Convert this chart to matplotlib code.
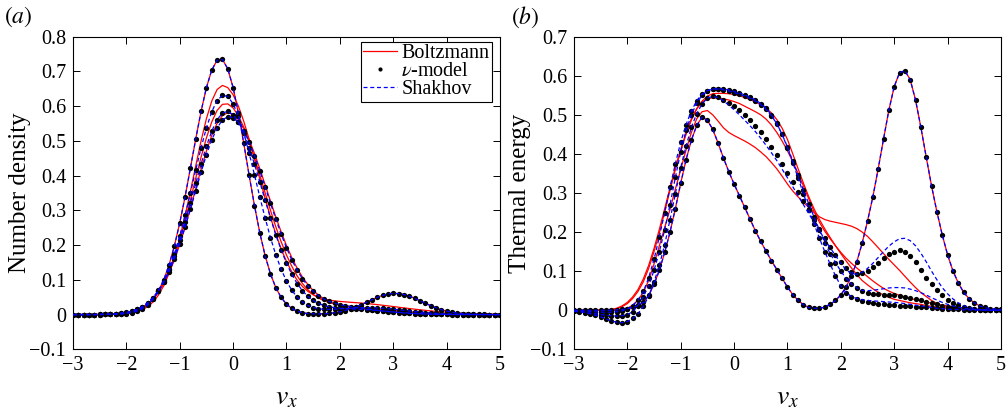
import numpy as np
import matplotlib
matplotlib.use("Agg")
import matplotlib.pyplot as plt
from matplotlib.lines import Line2D
from matplotlib.ticker import FuncFormatter, MultipleLocator

# velocity grid (-3 ... 5, step 0.1)
vx = np.linspace(-3.0, 5.0, 81)

# ---------------- panel (a): number density ----------------
a_init = [0, 0, 0, 0, 0, 0, 0.0003, 0.0005, 0.0008, 0.0016,
          0.003, 0.0054, 0.0097, 0.0166, 0.0274, 0.0437, 0.0672, 0.0996, 0.143, 0.1975,
          0.2636, 0.339, 0.4217, 0.5057, 0.585, 0.6534, 0.704, 0.732, 0.7346, 0.7075,
          0.6537, 0.5794, 0.4925, 0.4014, 0.314, 0.2356, 0.1697, 0.117, 0.0775, 0.0492,
          0.030, 0.0175, 0.0098, 0.0053, 0.0027, 0.0021, 0.0019, 0.0022, 0.0033, 0.0052,
          0.0079, 0.0116, 0.0162, 0.0219, 0.0284, 0.0355, 0.0427, 0.0495, 0.0551, 0.059,
          0.0609, 0.0604, 0.0577, 0.053, 0.0469, 0.0399, 0.0327, 0.0257, 0.0195, 0.0142,
          0.010, 0.0068, 0.0044, 0.0027, 0.0016, 0.0009, 0.0005, 0.0003, 0.0001, 0,
          0]
a_boltz1 = [0, 0, 0, 0, 0.0001, 0.0001, 0.0002, 0.0003, 0.0007, 0.0013,
            0.0026, 0.0047, 0.0082, 0.014, 0.0229, 0.0363, 0.0558, 0.0827, 0.1184, 0.1641,
            0.2196, 0.2839, 0.3547, 0.4283, 0.4999, 0.5639, 0.6148, 0.6478, 0.6597, 0.6534,
            0.6329, 0.5999, 0.5563, 0.5051, 0.4491, 0.3913, 0.3344, 0.2807, 0.232, 0.1891,
            0.1528, 0.1229, 0.0991, 0.0807, 0.0669, 0.057, 0.0499, 0.045, 0.0417, 0.0395,
            0.0378, 0.0366, 0.0354, 0.0343, 0.0331, 0.0318, 0.0303, 0.0286, 0.0269, 0.025,
            0.0232, 0.0212, 0.0193, 0.0174, 0.0156, 0.0138, 0.0122, 0.0106, 0.0092, 0.0079,
            0.0067, 0.0057, 0.0047, 0.0039, 0.0032, 0.0026, 0.0021, 0.0017, 0.0014, 0.0011,
            0.0009]
a_boltz2 = [0, 0, 0, 0.0001, 0.0001, 0.0002, 0.0004, 0.0008, 0.0014, 0.0026,
            0.0044, 0.0074, 0.0121, 0.0192, 0.0295, 0.0441, 0.0641, 0.0905, 0.1242, 0.1657,
            0.2145, 0.2701, 0.3303, 0.3927, 0.4532, 0.5085, 0.5546, 0.5878, 0.6052, 0.6065,
            0.5949, 0.572, 0.5391, 0.4981, 0.4514, 0.4014, 0.3503, 0.3002, 0.2528, 0.2097,
            0.1716, 0.1389, 0.1114, 0.0892, 0.0715, 0.0579, 0.0476, 0.04, 0.0344, 0.0303,
            0.0273, 0.0251, 0.0232, 0.0216, 0.0202, 0.0189, 0.0175, 0.0162, 0.0148, 0.0133,
            0.012, 0.0107, 0.0095, 0.0083, 0.0071, 0.0061, 0.0052, 0.0044, 0.0036, 0.003,
            0.0024, 0.002, 0.0016, 0.0012, 0.001, 0.0007, 0.0006, 0.0004, 0.0003, 0.0002,
            0.0002]
a_boltz3 = [0, 0, 0.0001, 0.0001, 0.0002, 0.0003, 0.0006, 0.0011, 0.0019, 0.0032,
            0.0053, 0.0085, 0.0135, 0.0207, 0.031, 0.0452, 0.0642, 0.0888, 0.1199, 0.1575,
            0.2017, 0.2517, 0.306, 0.3625, 0.4185, 0.4707, 0.5158, 0.5507, 0.5729, 0.581,
            0.5762, 0.5609, 0.5362, 0.5033, 0.4639, 0.42, 0.3738, 0.3269, 0.2812, 0.2382,
            0.1988, 0.1638, 0.1334, 0.1078, 0.0866, 0.0695, 0.056, 0.0455, 0.0375, 0.0314,
            0.0268, 0.0234, 0.0206, 0.0185, 0.0166, 0.0151, 0.0137, 0.0124, 0.0111, 0.0099,
            0.0088, 0.0077, 0.0068, 0.0058, 0.005, 0.0042, 0.0036, 0.003, 0.0024, 0.002,
            0.0016, 0.0013, 0.001, 0.0008, 0.0006, 0.0005, 0.0004, 0.0003, 0.0002, 0.0001,
            0.0001]
a_nu1 = [0, 0, 0, 0.0001, 0.0001, 0.0002, 0.0004, 0.0007, 0.0014, 0.0025,
         0.0044, 0.0074, 0.0122, 0.0195, 0.0302, 0.0456, 0.0667, 0.0948, 0.1306, 0.1748,
         0.227, 0.286, 0.350, 0.416, 0.480, 0.5375, 0.584, 0.616, 0.631, 0.628,
         0.607, 0.571, 0.523, 0.465, 0.4025, 0.339, 0.278, 0.2216, 0.172, 0.1305,
         0.0964, 0.0699, 0.0502, 0.0361, 0.0264, 0.0203, 0.0169, 0.0153, 0.015, 0.0155,
         0.0164, 0.0175, 0.0184, 0.0193, 0.0198, 0.020, 0.0198, 0.0192, 0.0182, 0.017,
         0.0155, 0.0139, 0.0121, 0.0104, 0.0087, 0.0072, 0.0058, 0.0046, 0.0036, 0.0027,
         0.002, 0.0015, 0.001, 0.0007, 0.0005, 0.0003, 0.0002, 0.0001, 0.0001, 0,
         0]
a_nu2 = [0, 0, 0.0001, 0.0001, 0.0002, 0.0004, 0.0007, 0.0012, 0.0021, 0.0036,
         0.0059, 0.0095, 0.0149, 0.0228, 0.0339, 0.0491, 0.0694, 0.0956, 0.128, 0.1677,
         0.2137, 0.2652, 0.3206, 0.378, 0.4335, 0.4849, 0.528, 0.561, 0.580, 0.585,
         0.5757, 0.5543, 0.522, 0.4809, 0.4335, 0.382, 0.3295, 0.2781, 0.2299, 0.1863,
         0.1482, 0.1158, 0.0894, 0.0685, 0.0524, 0.0406, 0.0321, 0.0262, 0.0223, 0.0199,
         0.0183, 0.0172, 0.0165, 0.0157, 0.0149, 0.014, 0.0129, 0.0117, 0.0104, 0.0091,
         0.0078, 0.0066, 0.0054, 0.0044, 0.0035, 0.0027, 0.002, 0.0015, 0.0011, 0.0008,
         0.0005, 0.0003, 0.0002, 0.0001, 0.0001, 0, 0, 0, 0, 0,
         0]
a_nu3 = [0, 0, 0.0001, 0.0001, 0.0002, 0.0004, 0.0008, 0.0014, 0.0024, 0.0039,
         0.0063, 0.010, 0.0154, 0.0232, 0.034, 0.0486, 0.0679, 0.0926, 0.1233, 0.160,
         0.2029, 0.2509, 0.3027, 0.3565, 0.4098, 0.4596, 0.503, 0.5373, 0.560, 0.5699,
         0.5668, 0.553, 0.5292, 0.497, 0.4579, 0.414, 0.3676, 0.3206, 0.2747, 0.2315,
         0.1923, 0.1575, 0.1278, 0.1029, 0.0828, 0.0668, 0.0545, 0.045, 0.0381, 0.0328,
         0.0288, 0.0256, 0.023, 0.0206, 0.0185, 0.0164, 0.0144, 0.0124, 0.0106, 0.0088,
         0.0072, 0.0058, 0.0046, 0.0036, 0.0027, 0.002, 0.0015, 0.001, 0.0007, 0.0005,
         0.0003, 0.0002, 0.0001, 0, 0, 0, 0, 0, 0, 0,
         0]
# Shakhov coincides with the nu-model in panel (a)
a_shak1 = list(a_nu1)
a_shak2 = list(a_nu2)
a_shak3 = list(a_nu3)

# ---------------- panel (b): thermal energy ----------------
b_init = [0, 0, 0, 0, 0, 0, 0, 0, 0.001, 0.002,
          0.004, 0.007, 0.012, 0.02, 0.038, 0.066, 0.102, 0.148, 0.2, 0.26,
          0.325, 0.385, 0.435, 0.473, 0.494, 0.486, 0.463, 0.428, 0.39, 0.355,
          0.323, 0.293, 0.263, 0.233, 0.203, 0.176, 0.151, 0.127, 0.104, 0.082,
          0.059, 0.04, 0.025, 0.014, 0.007, 0.005, 0.005, 0.008, 0.015, 0.025,
          0.039, 0.06, 0.088, 0.124, 0.172, 0.228, 0.29, 0.362, 0.438, 0.512,
          0.572, 0.608, 0.613, 0.59, 0.538, 0.468, 0.392, 0.318, 0.252, 0.193,
          0.142, 0.101, 0.07, 0.046, 0.03, 0.019, 0.011, 0.007, 0.004, 0.003,
          0.002]
b_boltz1 = [0, 0, 0, 0, 0, 0, 0, 0, 0.001, 0.002,
            0.005, 0.013, 0.026, 0.046, 0.076, 0.118, 0.165, 0.212, 0.258, 0.31,
            0.36, 0.41, 0.455, 0.49, 0.508, 0.511, 0.5, 0.484, 0.467, 0.455,
            0.447, 0.44, 0.433, 0.425, 0.416, 0.405, 0.393, 0.378, 0.362, 0.343,
            0.323, 0.305, 0.29, 0.276, 0.263, 0.25, 0.239, 0.232, 0.228, 0.225,
            0.222, 0.219, 0.215, 0.209, 0.2, 0.189, 0.175, 0.16, 0.145, 0.13,
            0.116, 0.102, 0.087, 0.072, 0.058, 0.045, 0.035, 0.025, 0.017, 0.011,
            0.007, 0.005, 0.003, 0.002, 0.001, 0, 0, 0, 0, 0,
            0]
b_boltz2 = [0, 0, 0, 0, 0, 0, 0, 0.002, 0.005, 0.011,
            0.02, 0.034, 0.053, 0.08, 0.115, 0.158, 0.207, 0.26, 0.313, 0.365,
            0.412, 0.453, 0.489, 0.516, 0.533, 0.541, 0.544, 0.543, 0.541, 0.538,
            0.534, 0.529, 0.522, 0.515, 0.508, 0.5, 0.489, 0.474, 0.455, 0.433,
            0.408, 0.38, 0.35, 0.318, 0.285, 0.252, 0.225, 0.202, 0.183, 0.165,
            0.148, 0.133, 0.12, 0.108, 0.097, 0.086, 0.075, 0.065, 0.056, 0.049,
            0.043, 0.038, 0.034, 0.03, 0.027, 0.024, 0.021, 0.018, 0.015, 0.013,
            0.011, 0.009, 0.007, 0.005, 0.004, 0.003, 0.002, 0.002, 0.001, 0.001,
            0]
b_boltz3 = [0, 0, 0, 0, 0, 0, 0, 0.001, 0.004, 0.009,
            0.017, 0.03, 0.048, 0.073, 0.107, 0.15, 0.198, 0.252, 0.307, 0.36,
            0.408, 0.45, 0.487, 0.515, 0.535, 0.548, 0.554, 0.555, 0.555, 0.554,
            0.552, 0.549, 0.544, 0.539, 0.533, 0.526, 0.517, 0.505, 0.488, 0.466,
            0.437, 0.4, 0.362, 0.325, 0.29, 0.259, 0.232, 0.208, 0.186, 0.165,
            0.145, 0.126, 0.108, 0.091, 0.076, 0.065, 0.055, 0.046, 0.039, 0.033,
            0.028, 0.025, 0.022, 0.019, 0.017, 0.015, 0.012, 0.01, 0.008, 0.006,
            0.005, 0.004, 0.003, 0.002, 0.002, 0.001, 0.001, 0, 0, 0,
            0]
b_nu1 = [-0.003, -0.004, -0.006, -0.009, -0.013, -0.017, -0.022, -0.027, -0.031, -0.032,
         -0.029, -0.021, -0.009, 0.01, 0.036, 0.072, 0.115, 0.168, 0.232, 0.298,
         0.365, 0.42, 0.468, 0.503, 0.528, 0.543, 0.547, 0.545, 0.539, 0.531,
         0.522, 0.512, 0.50, 0.487, 0.472, 0.455, 0.437, 0.417, 0.396, 0.373,
         0.35, 0.327, 0.303, 0.28, 0.256, 0.232, 0.208, 0.185, 0.163, 0.142,
         0.123, 0.107, 0.097, 0.093, 0.095, 0.1, 0.11, 0.122, 0.133, 0.143,
         0.15, 0.153, 0.15, 0.14, 0.123, 0.102, 0.082, 0.066, 0.051, 0.038,
         0.027, 0.019, 0.013, 0.008, 0.005, 0.003, 0.002, 0.001, 0, 0,
         0]
b_nu2 = [-0.002, -0.003, -0.005, -0.007, -0.009, -0.011, -0.013, -0.014, -0.015, -0.014,
         -0.011, -0.004, 0.013, 0.035, 0.063, 0.102, 0.15, 0.206, 0.27, 0.34,
         0.405, 0.46, 0.5, 0.53, 0.55, 0.561, 0.566, 0.566, 0.564, 0.561,
         0.557, 0.553, 0.548, 0.542, 0.535, 0.526, 0.514, 0.498, 0.477, 0.45,
         0.418, 0.382, 0.345, 0.308, 0.272, 0.238, 0.205, 0.172, 0.145, 0.122,
         0.1, 0.081, 0.067, 0.056, 0.049, 0.045, 0.042, 0.041, 0.04, 0.04,
         0.039, 0.037, 0.035, 0.032, 0.029, 0.026, 0.022, 0.019, 0.015, 0.012,
         0.009, 0.007, 0.005, 0.004, 0.003, 0.002, 0.001, 0.001, 0, 0,
         0]
b_nu3 = [-0.001, -0.001, -0.002, -0.003, -0.004, -0.005, -0.005, -0.005, -0.004, -0.002,
         0.003, 0.012, 0.026, 0.048, 0.083, 0.13, 0.188, 0.25, 0.315, 0.375,
         0.43, 0.475, 0.51, 0.536, 0.553, 0.562, 0.566, 0.567, 0.566, 0.564,
         0.56, 0.556, 0.551, 0.545, 0.538, 0.529, 0.517, 0.5, 0.478, 0.45,
         0.416, 0.378, 0.338, 0.298, 0.258, 0.22, 0.184, 0.15, 0.118, 0.088,
         0.062, 0.044, 0.034, 0.028, 0.024, 0.021, 0.019, 0.017, 0.015, 0.014,
         0.013, 0.012, 0.011, 0.01, 0.009, 0.008, 0.007, 0.006, 0.005, 0.004,
         0.003, 0.002, 0.002, 0.001, 0.001, 0, 0, 0, 0, 0,
         0]
b_shak1 = [-0.003, -0.004, -0.006, -0.009, -0.013, -0.017, -0.022, -0.027, -0.031, -0.032,
           -0.029, -0.021, -0.009, 0.01, 0.036, 0.072, 0.115, 0.168, 0.232, 0.298,
           0.365, 0.42, 0.468, 0.503, 0.528, 0.543, 0.547, 0.544, 0.536, 0.525,
           0.513, 0.5, 0.486, 0.472, 0.457, 0.44, 0.422, 0.403, 0.383, 0.361,
           0.339, 0.316, 0.293, 0.27, 0.247, 0.225, 0.203, 0.181, 0.16, 0.14,
           0.12, 0.103, 0.094, 0.092, 0.097, 0.107, 0.12, 0.135, 0.15, 0.164,
           0.175, 0.183, 0.184, 0.178, 0.165, 0.146, 0.124, 0.1, 0.078, 0.058,
           0.042, 0.029, 0.019, 0.012, 0.007, 0.004, 0.002, 0.001, 0, 0,
           0]
b_shak2 = [-0.002, -0.003, -0.005, -0.007, -0.009, -0.011, -0.013, -0.014, -0.015, -0.014,
           -0.011, -0.004, 0.013, 0.035, 0.063, 0.102, 0.15, 0.206, 0.27, 0.34,
           0.405, 0.46, 0.5, 0.53, 0.55, 0.561, 0.566, 0.566, 0.564, 0.561,
           0.557, 0.553, 0.548, 0.542, 0.535, 0.526, 0.514, 0.498, 0.477, 0.45,
           0.418, 0.382, 0.345, 0.308, 0.272, 0.238, 0.205, 0.172, 0.145, 0.122,
           0.1, 0.081, 0.067, 0.057, 0.051, 0.05, 0.051, 0.053, 0.055, 0.057,
           0.058, 0.058, 0.057, 0.054, 0.05, 0.045, 0.039, 0.032, 0.026, 0.02,
           0.015, 0.011, 0.008, 0.005, 0.003, 0.002, 0.001, 0.001, 0, 0,
           0]
b_shak3 = [-0.001, -0.001, -0.002, -0.003, -0.004, -0.005, -0.005, -0.005, -0.004, -0.002,
           0.003, 0.012, 0.026, 0.048, 0.083, 0.13, 0.188, 0.25, 0.315, 0.375,
           0.43, 0.475, 0.51, 0.536, 0.553, 0.562, 0.566, 0.567, 0.566, 0.564,
           0.56, 0.556, 0.551, 0.545, 0.538, 0.529, 0.517, 0.5, 0.478, 0.45,
           0.416, 0.378, 0.338, 0.298, 0.258, 0.22, 0.184, 0.15, 0.118, 0.088,
           0.062, 0.045, 0.035, 0.03, 0.027, 0.025, 0.024, 0.023, 0.022, 0.021,
           0.02, 0.019, 0.017, 0.015, 0.013, 0.011, 0.009, 0.007, 0.005, 0.004,
           0.003, 0.002, 0.002, 0.001, 0.001, 0, 0, 0, 0, 0,
           0]

panel_labels = ["(a)", "(b)"]
y_labels = ["Number density", "Thermal energy"]
legend_labels = ["Boltzmann", r"$\nu$-model", "Shakhov"]

plt.rcParams["font.family"] = ["Liberation Serif", "DejaVu Serif"]
plt.rcParams["mathtext.fontset"] = "stix"

RED = "#ff0000"
BLUE = "#0000ff"

fig = plt.figure(figsize=(10.08, 4.15), dpi=100)
axa = fig.add_axes([0.0724, 0.1583, 0.4236, 0.7533])
axb = fig.add_axes([0.5694, 0.1583, 0.4236, 0.7533])


def fmt(v, pos):
    s = "%g" % round(v, 2)
    return s.replace("-", "\u2212")


def draw(ax, init, boltz, nu, shak, ymax):
    for s in [init] + boltz:
        ax.plot(vx, np.asarray(s), color=RED, lw=0.9, zorder=2)
    for s in [init] + nu:
        ax.plot(vx, np.asarray(s), ls="none", marker="o", ms=3.8, mfc="black",
                mec="black", mew=0, zorder=3)
    for s in [init] + shak:
        ax.plot(vx, np.asarray(s), color=BLUE, lw=0.9, ls=(0, (3.2, 2.2)), zorder=4)
    ax.set_xlim(-3, 5)
    ax.set_ylim(-0.1, ymax)
    ax.xaxis.set_major_locator(MultipleLocator(1))
    ax.yaxis.set_major_locator(MultipleLocator(0.1))
    ax.xaxis.set_major_formatter(FuncFormatter(fmt))
    ax.yaxis.set_major_formatter(FuncFormatter(fmt))
    ax.tick_params(direction="in", top=True, right=True, length=5, width=0.7,
                   labelsize=14.5, pad=5)
    for sp in ax.spines.values():
        sp.set_linewidth(0.8)


for s in [a_init, a_boltz1, a_boltz2, a_boltz3, a_nu1, a_nu2, a_nu3,
          b_init, b_boltz1, b_boltz2, b_boltz3, b_nu1, b_nu2, b_nu3,
          b_shak1, b_shak2, b_shak3]:
    assert len(s) == 81, len(s)

draw(axa, a_init, [a_boltz1, a_boltz2, a_boltz3], [a_nu1, a_nu2, a_nu3],
     [a_shak1, a_shak2, a_shak3], 0.8)
draw(axb, b_init, [b_boltz1, b_boltz2, b_boltz3], [b_nu1, b_nu2, b_nu3],
     [b_shak1, b_shak2, b_shak3], 0.7)

for ax, yl in zip([axa, axb], y_labels):
    ax.set_ylabel(yl, fontsize=18)
    ax.set_xlabel(r"$v_x$", fontsize=20)
    ax.xaxis.set_label_coords(0.5, -0.115)
axa.yaxis.set_label_coords(-0.098, 0.5)
axb.yaxis.set_label_coords(-0.100, 0.5)

fig.text(0.004, 0.988, r"$(a)$", fontsize=17, va="top", ha="left")
fig.text(0.507, 0.988, r"$(b)$", fontsize=17, va="top", ha="left")

handles = [Line2D([], [], color=RED, lw=0.9),
           Line2D([], [], ls="none", marker="o", ms=3.0, mfc="black", mec="black", mew=0),
           Line2D([], [], color=BLUE, lw=0.9, ls=(0, (3.2, 2.2)))]
leg = axa.legend(handles, legend_labels, loc="upper right", bbox_to_anchor=(0.981, 0.984),
                 borderaxespad=0, fontsize=14.5, frameon=True, fancybox=False,
                 framealpha=1, edgecolor="black", handlelength=1.7, handletextpad=0.2,
                 labelspacing=-0.05, borderpad=0.12)
leg.get_frame().set_linewidth(0.8)

fig.savefig("out.png", dpi=100)
